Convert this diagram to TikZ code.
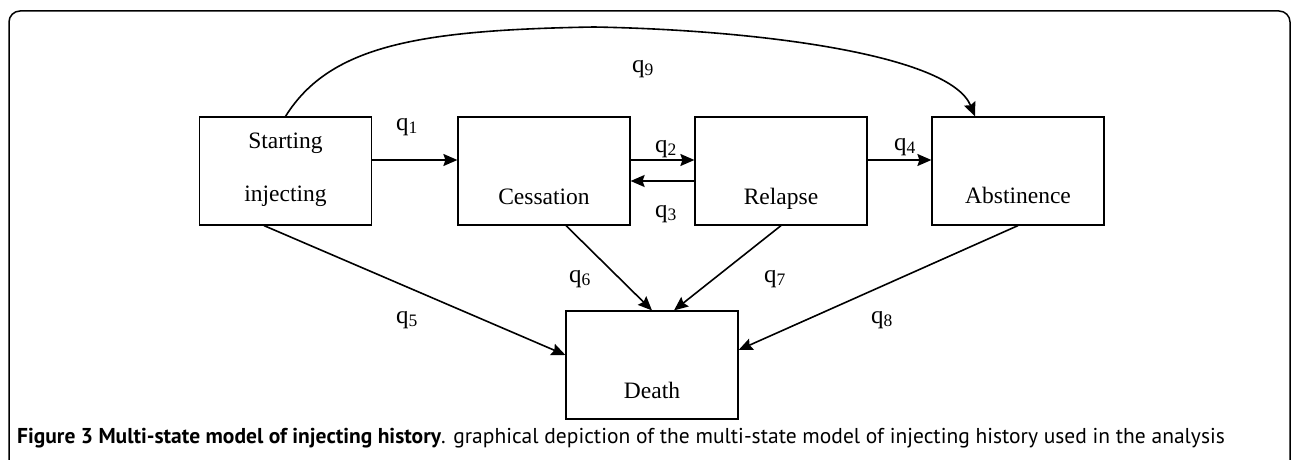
\documentclass[tikz,border=0pt]{standalone}
\usepackage{fontspec}
\setmainfont{Liberation Serif}
\newfontfamily\capfont{PT Sans}
\usetikzlibrary{arrows.meta}

\begin{document}
\begin{tikzpicture}[x=1pt, y=-1pt,
  box/.style={draw, line width=1.2pt, minimum width=172pt, minimum height=108pt, inner sep=0pt},
  txt/.style={anchor=base, inner sep=0pt, font=\fontsize{23.5}{28}\selectfont},
  rate/.style={anchor=base, inner sep=0pt, font=\fontsize{25}{30}\selectfont},
  arr/.style={line width=1.6pt, -{Stealth[length=14pt, width=12pt, inset=2pt]}}]
\useasboundingbox (0,0) rectangle (1292,460);

% Rahmen
\draw[line width=1.5pt, rounded corners=11pt] (9,480) -- (9,11) -- (1290,11) -- (1290,480);

% Zustaende
\node[box] (start) at (285.5,171) {};
\node[box] (cess) at (544,171) {};
\node[box] (rel) at (781,171) {};
\node[box] (abst) at (1018,171) {};
\node[box] (death) at (652,365) {};

\node[txt] (startA) at (285.5,148) {Starting};
\node[txt] (startB) at (285.5,201) {injecting};
\node[txt] (cessT) at (544,204) {Cessation};
\node[txt] (relT) at (781,204) {Relapse};
\node[txt] (abstT) at (1018,203) {Abstinence};
\node[txt] (deathT) at (652,398) {Death};

% Uebergaenge
\draw[arr] ([yshift=11pt]start.east) -- ([yshift=11pt]cess.west); % q1
\draw[arr] ([yshift=11pt]cess.east) -- ([yshift=11pt]rel.west); % q2
\draw[arr] ([yshift=-10pt]rel.west) -- ([yshift=-10pt]cess.east); % q3
\draw[arr] ([yshift=11pt]rel.east) -- ([yshift=11pt]abst.west); % q4
\draw[arr] ([xshift=-21.5pt]start.south) -- ([yshift=10pt]death.west); % q5
\draw[arr] ([xshift=22pt]cess.south) -- (death.north); % q6
\draw[arr] (rel.south) -- ([xshift=22pt]death.north); % q7
\draw[arr] (abst.south) -- ([yshift=15pt]death.east); % q8
\draw[arr] (start.north) .. controls (330,45) and (420,30) .. (594,27)
  .. controls (760,30) and (950,55) .. ([xshift=-43pt]abst.north); % q9

% Raten
\node[rate] (q1) at (407,130) {q\textsubscript{1}};
\node[rate] (q2) at (666,152) {q\textsubscript{2}};
\node[rate] (q3) at (666,217) {q\textsubscript{3}};
\node[rate] (q4) at (905,150) {q\textsubscript{4}};
\node[rate] (q5) at (407,323) {q\textsubscript{5}};
\node[rate] (q6) at (580,282) {q\textsubscript{6}};
\node[rate] (q7) at (775,282) {q\textsubscript{7}};
\node[rate] (q8) at (882,323) {q\textsubscript{8}};
\node[rate] (q9) at (643,72) {q\textsubscript{9}};

% Bildunterschrift
\node[anchor=base west, inner sep=0pt, font=\capfont\fontsize{21.5}{26}\selectfont] (caption) at (17,443)
  {\textbf{Figure 3 Multi-state model of injecting history}. graphical depiction of the multi-state model of injecting history used in the analysis};

\end{tikzpicture}
\end{document}
